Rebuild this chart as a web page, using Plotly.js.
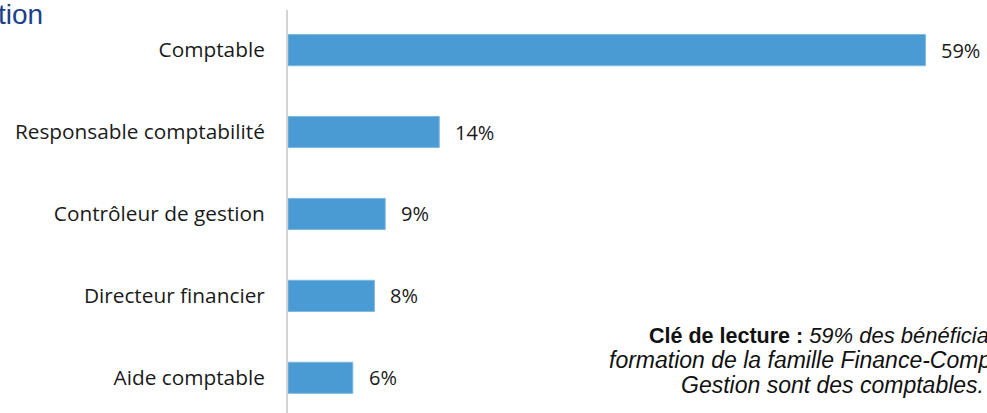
<!DOCTYPE html>
<html><head><meta charset="utf-8">
<script src="https://cdn.plot.ly/plotly-3.0.1.min.js"></script>
<style>html,body{margin:0;padding:0;background:#fff;overflow:hidden}</style>
</head><body>
<div id="chart" style="width:987px;height:413px"></div>
<script>
const categories = ["Comptable", "Responsable comptabilité", "Contrôleur de gestion", "Directeur financier", "Aide comptable"];
const values = [59, 14, 9, 8, 6];
const valueLabels = ["59%", "14%", "9%", "8%", "6%"];
const titleText = "tion";
const noteLines = [
  "<b>Clé de lecture :</b> <span style=\"font-size:22px\"><i>59% des bénéficiaires d'une</i></span>",
  "<i>formation de la famille Finance-Comptabilité-</i>",
  "<i>Gestion sont des comptables.</i>"
];
const noteX = [0.5136, 0.4564, 0.7783];
const noteAnchor = ['left', 'left', 'center'];
const noteY = [0.1935, 0.1315, 0.0695];

const labelAnnotations = categories.map((c, i) => ({
  x: values[i], y: c, xref: 'x', yref: 'y', text: valueLabels[i],
  showarrow: false, xanchor: 'left', yanchor: 'middle', xshift: 14,
  font: {family: '"Open Sans", sans-serif', size: 20, color: '#1a1a1a'}
}));

const noteAnnotations = noteLines.map((t, i) => ({
  xref: 'paper', yref: 'paper', x: noteX[i], y: noteY[i], xanchor: noteAnchor[i], yanchor: 'middle',
  text: t, showarrow: false, align: noteAnchor[i],
  font: {family: '"Liberation Sans", Arial, sans-serif', size: i === 0 ? 21.5 : 23, color: '#111'}
}));

const data = [{
  type: 'bar', orientation: 'h', x: values, y: categories,
  marker: {color: '#4A9AD3', line: {color: '#7DB8E2', width: 1}},
  width: 0.38, hoverinfo: 'none'
}];

const layout = {
  width: 987, height: 413,
  margin: {l: 288, r: 0, t: 10, b: 0, pad: 0},
  paper_bgcolor: '#fff', plot_bgcolor: '#fff',
  showlegend: false,
  title: {text: titleText, x: 0, xref: 'container', xanchor: 'left', y: 0.99, yref: 'container', yanchor: 'top',
    font: {family: '"Liberation Sans", Arial, sans-serif', size: 28, color: '#203F8C'}, pad: {l: -2, t: 0}},
  xaxis: {range: [0, 64.7], showgrid: false, zeroline: false, showticklabels: false, ticks: '', showline: false, fixedrange: true},
  yaxis: {type: 'category', range: [4.43, -0.49], showgrid: false, zeroline: false, showline: true,
    linecolor: '#d4d4d4', linewidth: 2, ticks: 'outside', ticklen: 0, tickcolor: '#fff', ticklabelstandoff: 17,
    tickfont: {family: '"Open Sans", sans-serif', size: 20.8, color: '#1a1a1a'}, automargin: false},
  annotations: labelAnnotations.concat(noteAnnotations)
};
Plotly.newPlot('chart', data, layout, {displayModeBar: false, staticPlot: true});
</script>
</body></html>
